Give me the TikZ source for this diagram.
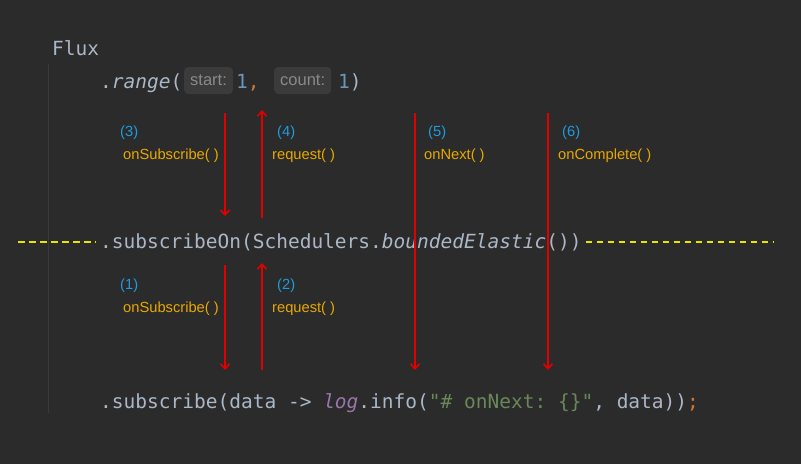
\documentclass[tikz,border=0pt]{standalone}
\usepackage{fontspec}
\setmainfont{Liberation Sans}
\setmonofont{DejaVu Sans Mono}
\usepackage{xcolor}
\usepackage{tikz}
\usetikzlibrary{arrows.meta,positioning}
\definecolor{editorbg}{HTML}{2B2B2B}
\definecolor{codefg}{HTML}{A9B7C6}
\definecolor{numblue}{HTML}{6897BB}
\definecolor{kworange}{HTML}{CC7832}
\definecolor{strgreen}{HTML}{6A8759}
\definecolor{fieldpurple}{HTML}{9876AA}
\definecolor{hintbg}{HTML}{3B3B3B}
\definecolor{hintfg}{HTML}{8A8A8A}
\definecolor{guidegray}{HTML}{3A3A3A}
\definecolor{stepblue}{RGB}{31,155,222}
\definecolor{callorange}{RGB}{232,168,0}
\definecolor{flowred}{RGB}{225,0,0}
\definecolor{threadyellow}{RGB}{230,230,0}

\tikzset{
  code/.style={font=\ttfamily\fontsize{19.5}{22}\selectfont,text=codefg,
               inner sep=0pt,anchor=base west},
  hint/.style={font=\fontsize{16.5}{19}\selectfont,text=hintfg,fill=hintbg,
               rounded corners=4pt,inner xsep=6pt,inner ysep=0pt,
               minimum height=27pt,anchor=west},
  stepnum/.style={font=\fontsize{14.7}{17}\selectfont,text=stepblue,
                  inner sep=0pt,anchor=base west},
  callname/.style={font=\fontsize{14.7}{17}\selectfont,text=callorange,
                   inner sep=0pt,anchor=base west},
  flow/.style={flowred,line width=2pt,
               -{Straight Barb[length=5pt,width=9pt,line width=1.6pt]}},
  thread/.style={threadyellow,line width=1.2pt,dash pattern=on 6.5pt off 4.5pt}
}

\begin{document}
\begin{tikzpicture}[x=1pt,y=-1pt]
  \useasboundingbox (0,0) rectangle (804,469);
  \fill[editorbg] (0,0) rectangle (801,464);
  % indent guide
  \draw[guidegray,line width=1pt] (48,64) -- (48,413);

  % code lines
  \node[code] (flux) at (52,55) {Flux};
  \node[code] (rangecall) at (100,88) {.\textit{range}(};
  \node[hint] (starthint) at (184,80.5) {start:};
  \node[code] (startval) at (236,88) {\textcolor{numblue}{1}\textcolor{kworange}{,}};
  \node[hint] (counthint) at (274,80.5) {count:};
  \node[code] (countval) at (338,88) {\textcolor{numblue}{1})};
  \node[code] (subscribeon) at (100,248) {.subscribeOn(Schedulers.\textit{boundedElastic}())};
  \node[code] (subscribecall) at (100,408)
        {.subscribe(data -> \textcolor{fieldpurple}{\textit{log}}.info(\textcolor{strgreen}{"\# onNext: \{\}"}, data))\textcolor{kworange}{;}};

  % thread boundary
  \coordinate (threadL) at (18,242);
  \coordinate (threadR) at (773,242);
  \draw[thread] (threadL) -- ([xshift=-4pt]threadL -| subscribeon.west);
  \draw[thread] ([xshift=4pt]threadR -| subscribeon.east) -- (threadR);

  % signals
  \coordinate (onsubAtop) at (225,113);
  \coordinate (onsubAbot) at (225,216);
  \coordinate (reqAbot) at (262,218);
  \coordinate (reqAtop) at (262,110);
  \coordinate (onsubBtop) at (225,265);
  \coordinate (onsubBbot) at (225,370);
  \coordinate (reqBbot) at (262,370);
  \coordinate (reqBtop) at (262,263);
  \coordinate (nexttop) at (415,113);
  \coordinate (nextbot) at (415,370);
  \coordinate (completetop) at (548,113);
  \coordinate (completebot) at (548,370);
  \draw[flow] (onsubAtop) -- (onsubAbot);
  \draw[flow] (reqAbot) -- (reqAtop);
  \draw[flow] (onsubBtop) -- (onsubBbot);
  \draw[flow] (reqBbot) -- (reqBtop);
  \draw[flow] (nexttop) -- (nextbot);
  \draw[flow] (completetop) -- (completebot);

  % labels above the boundary
  \node[stepnum] (num3) at (120,136) {(3)};
  \node[callname] (call3) at (123,159) {onSubscribe( )};
  \node[stepnum] (num4) at (277,136) {(4)};
  \node[callname] (call4) at (272,159) {request( )};
  \node[stepnum] (num5) at (428,136) {(5)};
  \node[callname] (call5) at (424,159) {onNext( )};
  \node[stepnum] (num6) at (562,136) {(6)};
  \node[callname] (call6) at (558,159) {onComplete( )};
  % labels below the boundary
  \node[stepnum] (num1) at (120,289) {(1)};
  \node[callname] (call1) at (123,312) {onSubscribe( )};
  \node[stepnum] (num2) at (277,289) {(2)};
  \node[callname] (call2) at (272,312) {request( )};
\end{tikzpicture}
\end{document}
